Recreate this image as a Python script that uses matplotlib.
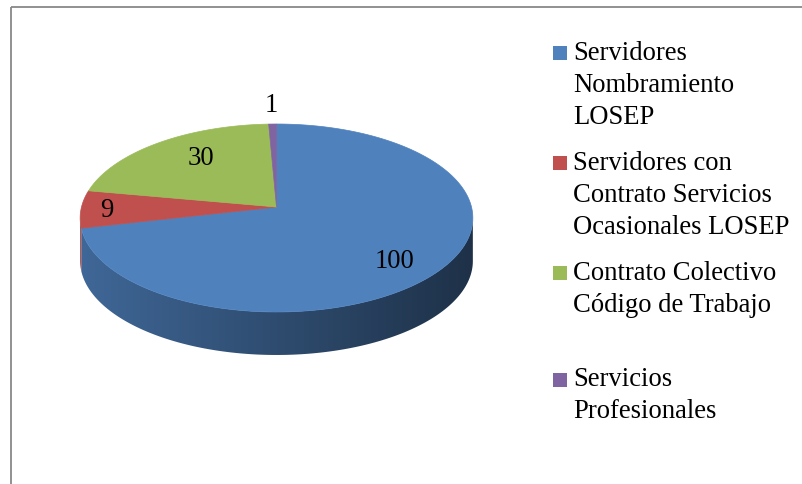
"""3D-style pie of staff by contract type, drawn in pixel coordinates."""
import numpy as np
import matplotlib
matplotlib.use("Agg")
import matplotlib.pyplot as plt
from matplotlib.patches import Polygon, Rectangle

# data
categories = ["Servidores\nNombramiento\nLOSEP",
              "Servidores con\nContrato Servicios\nOcasionales LOSEP",
              "Contrato Colectivo\nCódigo de Trabajo",
              "Servicios\nProfesionales"]
values = [100, 9, 30, 1]
colors = ["#4F81BD", "#C0504D", "#9BBB59", "#8064A2"]

# geometry of the fake-3D pie (pixels)
CX, CY = 276.5, 207.0        # vertex of the slices
F, FB = 195.0, 92.7          # horizontal / vertical radius
K = 0.117                    # perspective strength
DEPTH = 43.0
label_r = [0.73, 0.87, 0.62, 1.26]
label_dy = [10, 2, -7, 0]

FONT = "Liberation Serif"
FS = 19.2


def proj(theta_deg, r=1.0):
    t = np.radians(theta_deg)
    d = 1 + K * r * np.sin(t)
    return CX + F * r * np.cos(t) / d, CY - FB * r * np.sin(t) / d


fig = plt.figure(figsize=(8.03, 4.84), dpi=100)
ax = fig.add_axes([0, 0, 1, 1])
ax.set_xlim(0, 803)
ax.set_ylim(484, 0)
ax.axis("off")

# slices go clockwise from 12 o'clock
total = float(sum(values))
bounds = [90.0]
for v in values:
    bounds.append(bounds[-1] - 360.0 * v / total)

# side wall, visible between the two silhouette points; shaded left -> right
th_l = 180 + np.degrees(np.arcsin(K))
th_r = 360 - np.degrees(np.arcsin(K))
x_left, _ = proj(th_l)
x_right, _ = proj(th_r)
ramp = np.linspace(0.80, 0.38, 256)
for i, c in enumerate(colors):
    a1, a0 = bounds[i] % 360, bounds[i + 1] % 360   # a0 < a1 going ccw
    if a1 <= a0:
        a1 += 360
    lo, hi = max(a0, th_l), min(a1, th_r)
    if hi <= lo:
        continue
    ts = np.linspace(lo, hi, 200)
    top = [proj(t) for t in ts]
    bot = [(x, y + DEPTH) for x, y in top[::-1]]
    wall = Polygon(top + bot, closed=True, fc="none", ec="none")
    ax.add_patch(wall)
    base = np.array(matplotlib.colors.to_rgb(c))
    grad = np.clip(ramp[None, :, None] * base[None, None, :], 0, 1)
    im = ax.imshow(grad, extent=[x_left, x_right, 320 + DEPTH, 150], aspect="auto",
                   interpolation="bilinear", zorder=2)
    im.set_clip_path(wall)

# top faces
for i, c in enumerate(colors):
    ts = np.linspace(bounds[i], bounds[i + 1], 200)
    pts = [(CX, CY)] + [proj(t) for t in ts]
    ax.add_patch(Polygon(pts, closed=True, fc=c, ec=c, lw=0.5, zorder=3))

ax.set_xlim(0, 803)
ax.set_ylim(484, 0)

# data labels
for i, v in enumerate(values):
    mid = (bounds[i] + bounds[i + 1]) / 2
    x, y = proj(mid, label_r[i])
    ax.text(x, y + label_dy[i], str(v), ha="center", va="center",
            family=FONT, fontsize=FS, color="black", zorder=5)

# legend
leg_y = [53, 163, 273, 380]     # first text line of each entry
for i, lab in enumerate(categories):
    ax.add_patch(Rectangle((553, leg_y[i] - 7), 14, 14, fc=colors[i], ec="none", zorder=5))
    for j, line in enumerate(lab.split("\n")):
        ax.text(573, leg_y[i] + j * 32, line, ha="left", va="center",
                family=FONT, fontsize=FS, color="black", zorder=5)

# chart frame (right and bottom fall outside the picture)
ax.plot([11.5, 803], [6.5, 6.5], color="#888888", lw=1.3, solid_capstyle="butt")
ax.plot([11.5, 11.5], [6.5, 484], color="#888888", lw=1.3, solid_capstyle="butt")

fig.savefig("out.png", dpi=100, facecolor="white")
